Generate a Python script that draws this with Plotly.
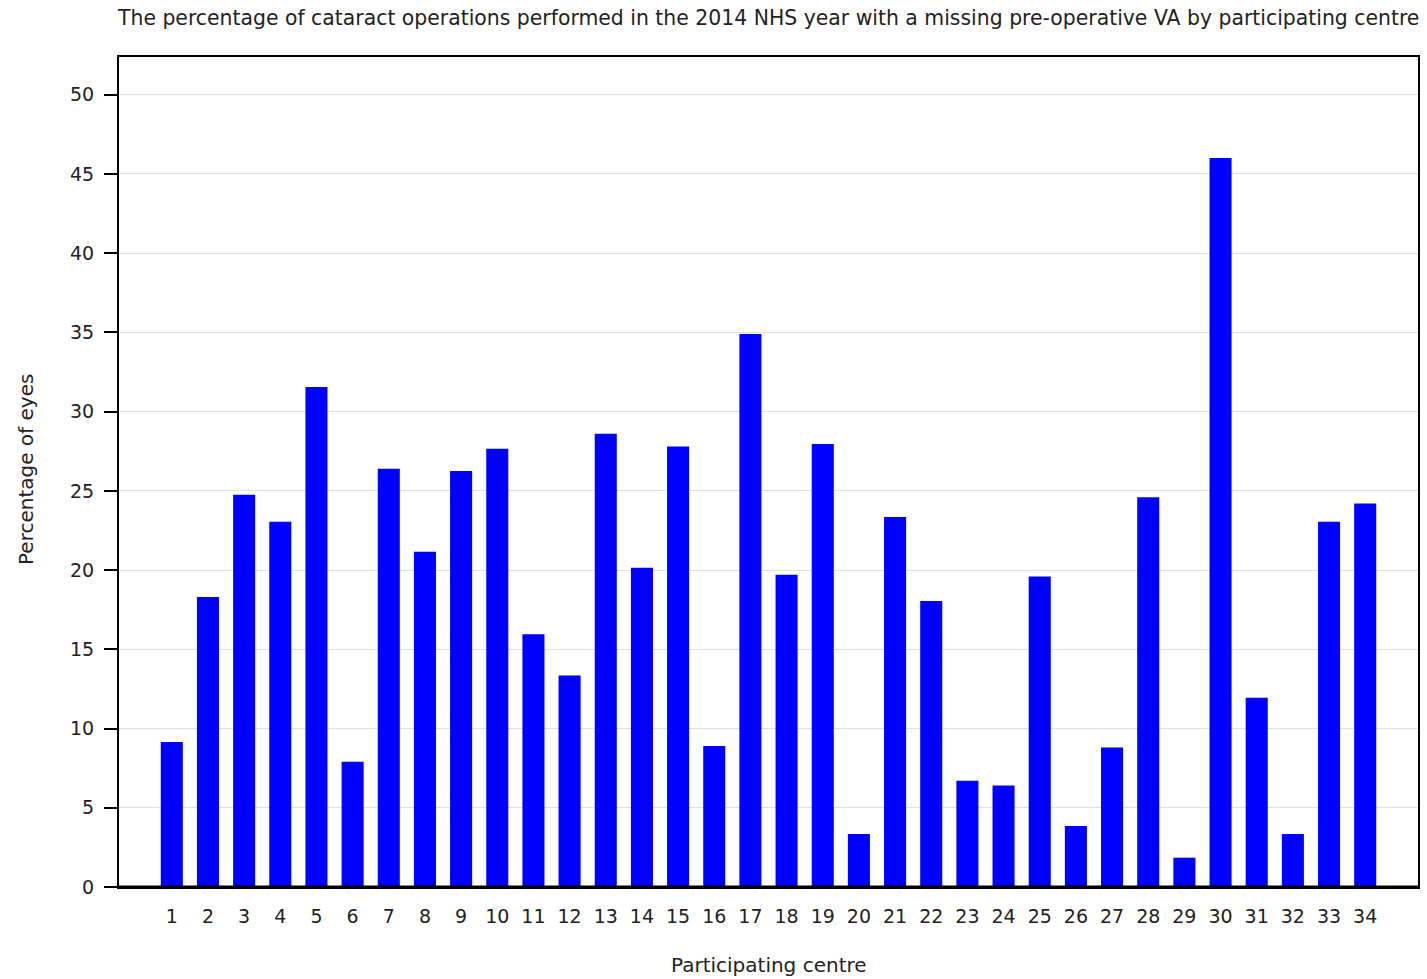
import plotly.graph_objects as go

centres = list(range(1, 35))
tick_labels = [str(c) for c in centres]
pct_missing = [9.15, 18.3, 24.75, 23.05, 31.55, 7.9, 26.4, 21.15, 26.25, 27.65,
               15.95, 13.35, 28.6, 20.15, 27.8, 8.9, 34.9, 19.7, 27.95, 3.35,
               23.35, 18.05, 6.7, 6.4, 19.6, 3.85, 8.8, 24.6, 1.85, 46.0,
               11.95, 3.35, 23.05, 24.2]
y_ticks = list(range(0, 51, 5))

title_text = ("The percentage of cataract operations performed in the 2014 NHS year "
              "with a missing pre-operative VA by participating centre")
x_title = "Participating centre"
y_title = "Percentage of eyes"

FONT = "DejaVu Sans"
TXT = "#222222"

fig = go.Figure()
fig.add_trace(go.Bar(x=centres, y=pct_missing, width=0.61,
                     marker=dict(color="#0000FF", line=dict(width=0))))

fig.update_layout(
    width=1427, height=979,
    margin=dict(l=119, r=9, t=57, b=92, autoexpand=False),
    paper_bgcolor="white", plot_bgcolor="white",
    font=dict(family=FONT, size=19, color=TXT),
    showlegend=False,
    title=dict(text=title_text, x=118 / 1427, xanchor="left", xref="container",
               y=1 - 18 / 979, yanchor="middle", yref="container",
               font=dict(size=20.4, color=TXT)),
)
fig.update_xaxes(range=[-0.46, 35.46], tickmode="array", tickvals=centres,
                 ticktext=tick_labels, showgrid=False,
                 ticks="outside", ticklen=11, tickcolor="rgba(0,0,0,0)",
                 showline=True, linecolor="black", linewidth=2, mirror=True,
                 tickfont=dict(size=19))
fig.update_yaxes(range=[0, 52.38], tickmode="array", tickvals=y_ticks,
                 showgrid=True, gridcolor="#e0e0e0", gridwidth=1,
                 ticks="outside", ticklen=13, tickcolor="black", tickwidth=2,
                 ticklabelstandoff=6,
                 showline=True, linecolor="black", linewidth=2, mirror=True,
                 zeroline=False, tickfont=dict(size=19))
fig.add_shape(type="line", xref="paper", yref="y", x0=0, x1=1, y0=0, y1=0,
              line=dict(color="black", width=3))
fig.add_annotation(text=x_title, xref="paper", yref="paper", x=0.5, y=-0.094,
                   xanchor="center", yanchor="middle", showarrow=False,
                   font=dict(size=20, color=TXT))
fig.add_annotation(text=y_title, xref="paper", yref="paper", x=-0.0716, y=0.5036,
                   xanchor="center", yanchor="middle", showarrow=False, textangle=-90,
                   font=dict(size=20, color=TXT))
fig.write_html("out.html",
               config={"displayModeBar": False},
               post_script="document.body.style.margin='0';"
                           "document.body.style.overflow='hidden';")
